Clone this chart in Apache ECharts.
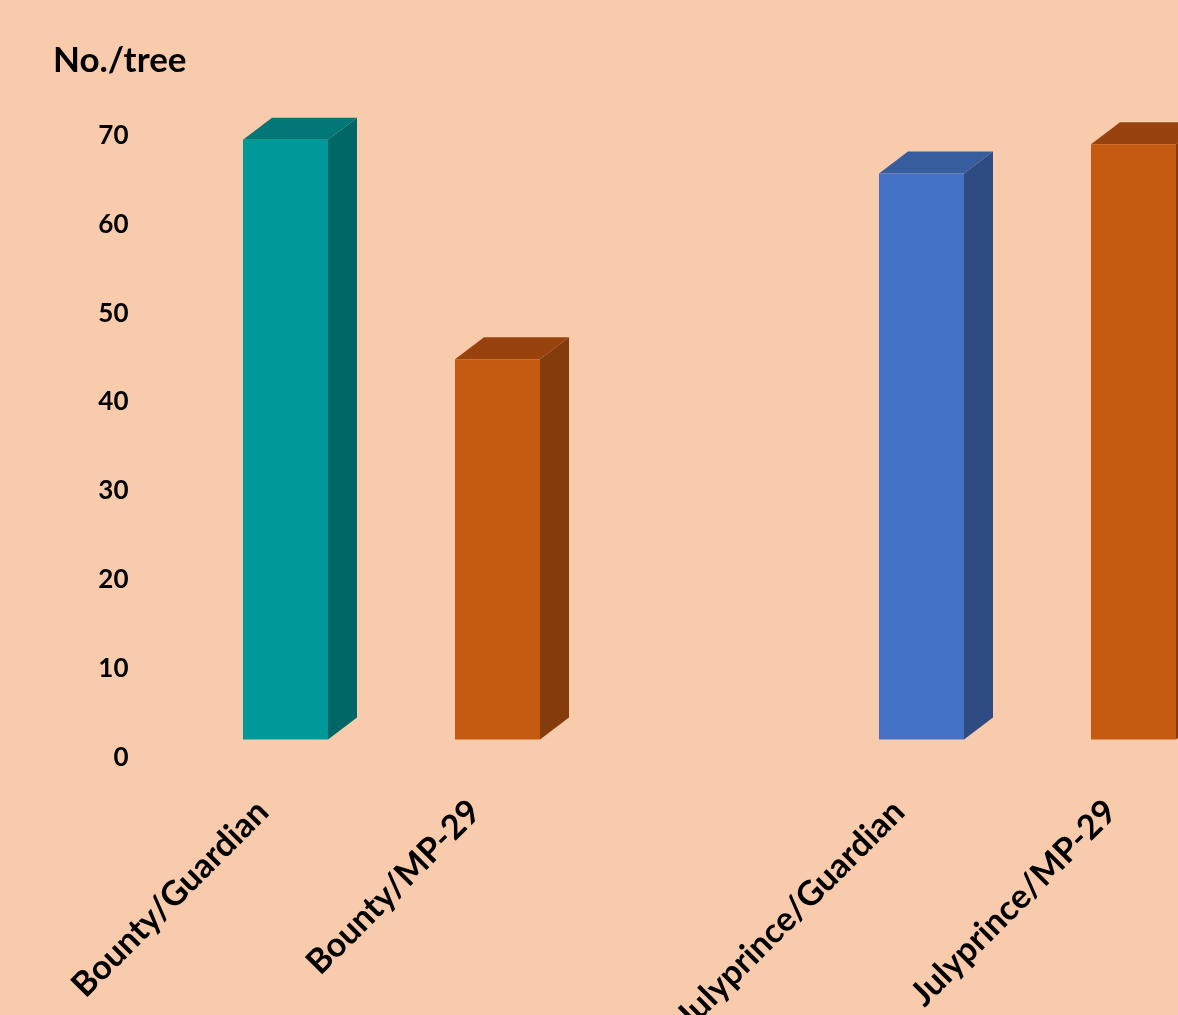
<!DOCTYPE html>
<html>
<head>
<meta charset="utf-8">
<title>No./tree</title>
<script src="https://cdn.jsdelivr.net/npm/echarts@6/dist/echarts.min.js"></script>
<style>
  html, body { margin: 0; padding: 0; background: #F8CBAD; }
  #chart { width: 1178px; height: 1015px; }
</style>
</head>
<body>
<div id="chart"></div>
<script>
// Scion/rootstock combinations; the empty slot separates the two scion groups
const categories = ['Bounty/Guardian', 'Bounty/MP-29', '', 'Julyprince/Guardian', 'Julyprince/MP-29'];
// Number of fruit per tree
const treeCounts = [67.5, 42.8, null, 63.7, 67.0];
// Value-axis ticks
const yTicks = [0, 10, 20, 30, 40, 50, 60, 70];

// Face colours for each box: front, top, side
const palettes = [
  { front: '#009999', top: '#017777', side: '#006666' },
  { front: '#C55A11', top: '#98430E', side: '#843C0C' },
  null,
  { front: '#4472C4', top: '#385D9E', side: '#2E4B82' },
  { front: '#C55A11', top: '#98430E', side: '#843C0C' }
];

const FONT = 'Lato';
const BAR_W = 85;      // width of the front face
const DEPTH_X = 29;    // oblique depth of the boxes
const DEPTH_Y = -22;
const PLOT = { left: 179.5, top: 117.5, width: 1060, height: 622 };
const LABEL_DROP = 18; // value labels sit a little below the front floor edge

const seriesData = [];
categories.forEach((c, i) => {
  if (treeCounts[i] != null) seriesData.push([i, treeCounts[i]]);
});

function renderBox(params, api) {
  const idx = api.value(0);
  const val = api.value(1);
  const base = api.coord([idx, 0]);
  const top = api.coord([idx, val]);
  const pal = palettes[idx];
  const x0 = base[0] - BAR_W / 2;
  const x1 = base[0] + BAR_W / 2;
  const yb = base[1];
  const yt = top[1];
  return {
    type: 'group',
    children: [
      {
        type: 'polygon',
        shape: { points: [[x1, yt], [x1 + DEPTH_X, yt + DEPTH_Y], [x1 + DEPTH_X, yb + DEPTH_Y], [x1, yb]] },
        style: { fill: pal.side }
      },
      {
        type: 'polygon',
        shape: { points: [[x0, yt], [x1, yt], [x1 + DEPTH_X, yt + DEPTH_Y], [x0 + DEPTH_X, yt + DEPTH_Y]] },
        style: { fill: pal.top }
      },
      {
        type: 'rect',
        shape: { x: x0, y: yt, width: BAR_W, height: yb - yt },
        style: { fill: pal.front }
      }
    ]
  };
}

const valueAxisBase = {
  type: 'value',
  min: yTicks[0],
  max: yTicks[yTicks.length - 1],
  interval: yTicks[1] - yTicks[0],
  axisLine: { show: false },
  axisTick: { show: false },
  splitLine: { show: false }
};

const chart = echarts.init(document.getElementById('chart'), null, { renderer: 'canvas' });
chart.setOption({
  backgroundColor: '#F8CBAD',
  animation: false,
  title: {
    text: 'No./tree',
    left: 48,
    top: 38,
    textStyle: { fontFamily: FONT, fontWeight: 'bold', fontSize: 35, color: '#000' }
  },
  grid: [
    Object.assign({ outerBoundsMode: 'none', containLabel: false }, PLOT),
    Object.assign({ outerBoundsMode: 'none', containLabel: false }, PLOT, { top: PLOT.top + LABEL_DROP })
  ],
  xAxis: [
    {
      type: 'category',
      gridIndex: 0,
      data: categories,
      axisLine: { show: false },
      axisTick: { show: false },
      axisLabel: {
        interval: 0,
        rotate: 45,
        margin: 44,
        padding: [0, 32, 0, 0],
        fontFamily: FONT,
        fontWeight: 'bold',
        fontSize: 34,
        color: '#000'
      }
    },
    {
      type: 'category',
      gridIndex: 1,
      data: categories,
      show: false
    }
  ],
  yAxis: [
    Object.assign({ gridIndex: 0, axisLabel: { show: false } }, valueAxisBase),
    Object.assign({
      gridIndex: 1,
      axisLabel: {
        margin: 51,
        fontFamily: FONT,
        fontWeight: 'bold',
        fontSize: 26,
        color: '#000'
      }
    }, valueAxisBase)
  ],
  series: [{
    type: 'custom',
    xAxisIndex: 0,
    yAxisIndex: 0,
    renderItem: renderBox,
    data: seriesData,
    clip: false
  }]
});
</script>
</body>
</html>
